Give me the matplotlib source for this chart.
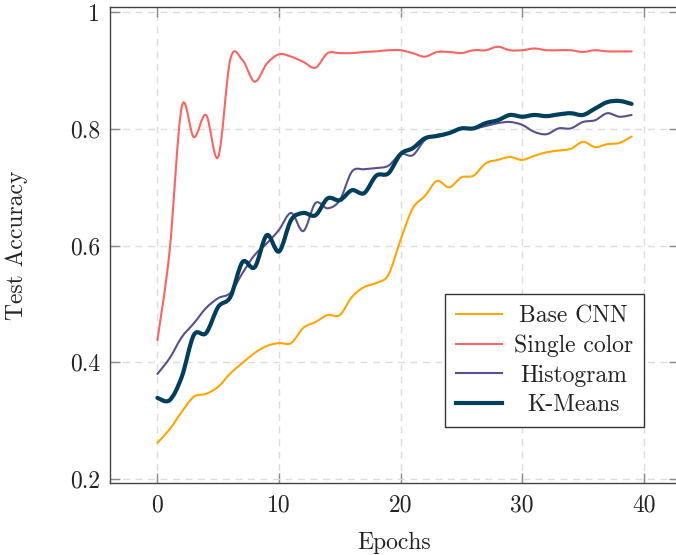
import numpy as np
import matplotlib
matplotlib.use("Agg")
from matplotlib import pyplot as plt
from matplotlib.path import Path
from matplotlib.patches import PathPatch
from matplotlib.lines import Line2D

# test accuracy per epoch
epochs = np.arange(40)
base_cnn = [0.262, 0.285, 0.315, 0.341, 0.346, 0.358, 0.381, 0.399, 0.416, 0.428,
            0.433, 0.433, 0.459, 0.469, 0.481, 0.481, 0.512, 0.529, 0.536, 0.550,
            0.610, 0.664, 0.685, 0.711, 0.700, 0.717, 0.720, 0.741, 0.747, 0.752,
            0.747, 0.754, 0.760, 0.763, 0.766, 0.778, 0.769, 0.774, 0.776, 0.787]
single_color = [0.438, 0.590, 0.838, 0.786, 0.824, 0.752, 0.920, 0.918, 0.881, 0.912,
                0.928, 0.924, 0.915, 0.905, 0.930, 0.930, 0.930, 0.932, 0.933, 0.935,
                0.935, 0.930, 0.924, 0.932, 0.932, 0.930, 0.935, 0.935, 0.941, 0.935,
                0.935, 0.938, 0.935, 0.935, 0.935, 0.932, 0.935, 0.933, 0.933, 0.933]
histogram = [0.380, 0.407, 0.443, 0.467, 0.493, 0.510, 0.519, 0.553, 0.584, 0.604,
             0.627, 0.656, 0.625, 0.673, 0.664, 0.678, 0.727, 0.731, 0.733, 0.737,
             0.757, 0.755, 0.781, 0.790, 0.793, 0.800, 0.801, 0.805, 0.810, 0.812,
             0.807, 0.795, 0.791, 0.801, 0.801, 0.812, 0.815, 0.827, 0.821, 0.824]
kmeans = [0.339, 0.335, 0.375, 0.447, 0.450, 0.495, 0.512, 0.572, 0.563, 0.618,
          0.590, 0.644, 0.656, 0.652, 0.681, 0.678, 0.695, 0.690, 0.720, 0.724,
          0.757, 0.767, 0.784, 0.788, 0.793, 0.801, 0.801, 0.810, 0.815, 0.824,
          0.821, 0.824, 0.822, 0.825, 0.827, 0.824, 0.835, 0.846, 0.848, 0.843]

labels = ["Base CNN", "Single color", "Histogram", "K-Means"]
colors = ["#ffa600", "#ff6361", "#58508d", "#003f5c"]
widths = [1.5, 1.5, 1.5, 3.0]

x_ticks = [0, 10, 20, 30, 40]
y_ticks = [0.2, 0.4, 0.6, 0.8, 1.0]
y_ticklabels = ["0.2", "0.4", "0.6", "0.8", "1"]

plt.rcParams["font.family"] = "serif"
plt.rcParams["font.serif"] = ["cmr10", "DejaVu Serif"]
plt.rcParams["mathtext.fontset"] = "cm"
plt.rcParams["font.size"] = 17


def smooth_path(xs, ys, k=1/6):
    # cubic bezier through the points, like tikz "smooth"
    pts = np.column_stack([xs, ys]).astype(float)
    n = len(pts)
    verts = [pts[0]]
    codes = [Path.MOVETO]
    for i in range(n - 1):
        p0 = pts[i - 1] if i > 0 else pts[i]
        p1, p2 = pts[i], pts[i + 1]
        p3 = pts[i + 2] if i + 2 < n else pts[i + 1]
        c1 = p1 + (p2 - p0) * k
        c2 = p2 - (p3 - p1) * k
        verts += [c1, c2, p2]
        codes += [Path.CURVE4] * 3
    return Path(verts, codes)


fig = plt.figure(figsize=(6.76, 5.55), dpi=100)
ax = fig.add_axes([110 / 676, 71.7 / 555, 569 / 676, 476.6 / 555])

series = [base_cnn, single_color, histogram, kmeans]
handles = []
for vals, col, lw in zip(series, colors, widths):
    ax.add_patch(PathPatch(smooth_path(epochs, vals), fill=False, edgecolor=col,
                           lw=lw, zorder=3, capstyle="round", joinstyle="round"))
    handles.append(Line2D([], [], color=col, lw=lw))

ax.set_xlim(-3.9, 42.9)
ax.set_ylim(0.1926, 1.0096)
ax.set_xticks(x_ticks)
ax.set_yticks(y_ticks)
ax.set_yticklabels(y_ticklabels)

ax.grid(True, color="#dcdcdc", linestyle=(0, (5, 4)), linewidth=1.0, zorder=0)
ax.set_axisbelow(True)
ax.tick_params(direction="in", top=True, right=True, length=7, width=1.0,
               color="#8a8a8a", labelcolor="#222222", pad=7)
ax.tick_params(axis="x", pad=8)
for s in ax.spines.values():
    s.set_color("#444444")
    s.set_linewidth(1.0)

ax.set_xlabel("Epochs", labelpad=11, color="#222222")
ax.set_ylabel("Test Accuracy", labelpad=30, color="#222222")

leg = ax.legend(handles, labels, loc="lower right", bbox_to_anchor=(0.938, 0.118),
                borderaxespad=0, fancybox=False, framealpha=1, edgecolor="#333333",
                handlelength=1.95, handletextpad=0.5, labelspacing=0.32,
                borderpad=0.45, fontsize=17)
leg.get_frame().set_linewidth(1.0)
for t in leg.get_texts():
    t.set_color("#222222")

# center the legend texts like pgfplots does
fig.canvas.draw()
r = fig.canvas.get_renderer()
text_w = [t.get_window_extent(r).width for t in leg.get_texts()]
maxw = max(text_w)
for t, w in zip(leg.get_texts(), text_w):
    t.set_position(((maxw - w) / 2, 0))

fig.savefig("out.png", dpi=100)
